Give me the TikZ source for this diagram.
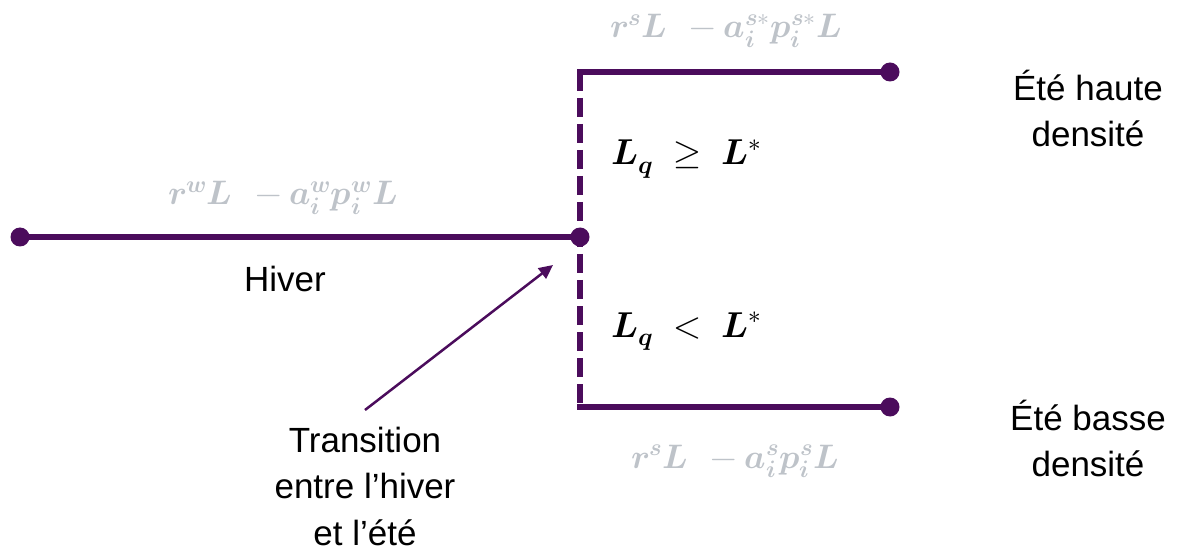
\documentclass[tikz,border=0pt]{standalone}
\usepackage{amsmath}
\usepackage{fontspec}
\usepackage{unicode-math}
\setmainfont{Liberation Sans}
\setmathfont{Latin Modern Math}
\usetikzlibrary{arrows.meta}
\definecolor{purp}{HTML}{4B0C5C}
\definecolor{formgray}{HTML}{BEC3C9}
\begin{document}
\begin{tikzpicture}[x=1pt,y=1pt,
  branch/.style={draw=purp, line width=6pt},
  dashbranch/.style={draw=purp, line width=6pt, dash pattern=on 19pt off 7pt},
  dotnode/.style={circle, fill=purp, inner sep=0pt, minimum size=19pt},
  lbl/.style={font=\fontsize{35}{46}\selectfont, align=center, inner sep=0pt, text=black},
  frm/.style={font=\fontsize{34}{40}\selectfont, text=formgray, inner sep=0pt},
  cond/.style={font=\fontsize{36}{40}\selectfont, text=black, inner sep=0pt},
  pointer/.style={draw=purp, line width=2.5pt, -{Triangle[length=14pt,width=13pt]}}
]
\useasboundingbox (0,0) rectangle (1182,552);
% points
\node[dotnode] (start) at (20,315) {};
\node[dotnode] (mid) at (580,315) {};
\coordinate (top) at (580,480);
\coordinate (bot) at (580,145);
\node[dotnode] (hi) at (890,480) {};
\node[dotnode] (lo) at (890,145) {};
% lines
\draw[branch] (start.center) -- (mid.center);
\draw[dashbranch] (top) -- (bot);
\draw[branch] ([xshift=-3pt]top) -- (hi.center);
\draw[branch] ([xshift=-3pt]bot) -- (lo.center);
% formulas
\node[frm, anchor=base] (fw) at (283,347) {$\symbfit{r^{w}L\;\, - a_i^{w}p_i^{w}L}$};
\node[frm, anchor=base] (fs1) at (726,514) {$\symbfit{r^{s}L\;\, - a_i^{s*}p_i^{s*}L}$};
\node[frm, anchor=base] (fs2) at (735,84) {$\symbfit{r^{s}L\;\, - a_i^{s}p_i^{s}L}$};
\node[cond, anchor=base west] (c1) at (611,387) {$\symbfit{L_q\;\geq\; L^{*}}$};
\node[cond, anchor=base west] (c2) at (611,215) {$\symbfit{L_q\;<\; L^{*}}$};
% labels
\node[lbl, anchor=base] (hiver) at (285,260) {Hiver};
\node[lbl] (haute) at (1088,444) {Été haute\\densité};
\node[lbl] (basse) at (1088,114) {Été basse\\densité};
\node[lbl, font=\fontsize{35}{46.5}\selectfont] (trans) at (365,66) {Transition\\entre l’hiver\\et l’été};
% pointer
\coordinate (ptip) at (553,287);
\draw[pointer] (365,142) -- (ptip);
\end{tikzpicture}
\end{document}
